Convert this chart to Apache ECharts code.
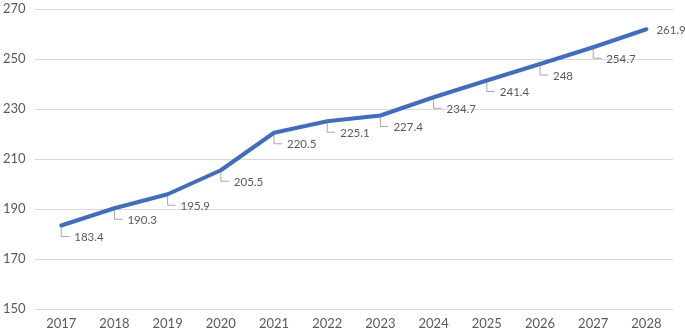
<!DOCTYPE html>
<html>
<head>
<meta charset="utf-8">
<script src="https://cdn.jsdelivr.net/npm/echarts@6/dist/echarts.min.js"></script>
<style>
  html, body { margin: 0; padding: 0; background: #fff; }
  #chart { width: 685px; height: 334px; }
</style>
</head>
<body>
<div id="chart"></div>
<script>
// Yearly values, 2017–2028
const years = ['2017', '2018', '2019', '2020', '2021', '2022', '2023', '2024', '2025', '2026', '2027', '2028'];
const values = [183.4, 190.3, 195.9, 205.5, 220.5, 225.1, 227.4, 234.7, 241.4, 248, 254.7, 261.9];
const labelTexts = ['183.4', '190.3', '195.9', '205.5', '220.5', '225.1', '227.4', '234.7', '241.4', '248', '254.7', '261.9'];
const yTicks = { min: 150, max: 270, interval: 20 };

const textColor = '#595959';
const fontFamily = 'Lato, "Open Sans", sans-serif';

const chart = echarts.init(document.getElementById('chart'));

// Callout: elbow leader from the point down and right, then the value text.
function renderCallout(params, api) {
  const i = params.dataIndex;
  const p = api.coord([api.value(0), api.value(1)]);
  const last = i === values.length - 1;
  const font = '11.5px ' + fontFamily;
  const children = [];
  if (last) {
    children.push({
      type: 'text',
      style: {
        x: p[0] + 10, y: p[1] + 1,
        text: labelTexts[i],
        fill: textColor, font: font,
        textAlign: 'left', textVerticalAlign: 'middle'
      }
    });
  } else {
    const dy = 11;
    children.push({
      type: 'polyline',
      shape: { points: [[p[0], p[1] + 2], [p[0], p[1] + dy], [p[0] + 8, p[1] + dy]] },
      style: { stroke: '#a6a6a6', lineWidth: 1, fill: null }
    });
    children.push({
      type: 'text',
      style: {
        x: p[0] + 13, y: p[1] + dy + 1,
        text: labelTexts[i],
        fill: textColor, font: font,
        textAlign: 'left', textVerticalAlign: 'middle'
      }
    });
  }
  return { type: 'group', children: children };
}

chart.setOption({
  animation: false,
  grid: { left: 33, right: 12, top: 9, bottom: 25, containLabel: false },
  xAxis: {
    type: 'category',
    data: years,
    boundaryGap: true,
    axisLine: { show: false },
    axisTick: { show: false },
    axisLabel: { color: textColor, fontSize: 13, fontFamily: fontFamily, margin: 8 }
  },
  yAxis: {
    type: 'value',
    min: yTicks.min, max: yTicks.max, interval: yTicks.interval,
    axisLine: { show: false },
    axisTick: { show: false },
    axisLabel: { color: textColor, fontSize: 13, fontFamily: fontFamily, margin: 9 },
    splitLine: { lineStyle: { color: '#d9d9d9', width: 1 } }
  },
  series: [
    {
      type: 'line',
      data: values,
      symbol: 'none',
      lineStyle: { color: '#436db8', width: 4, cap: 'round', join: 'round' },
      z: 3
    },
    {
      type: 'custom',
      data: values.map((v, i) => [i, v]),
      renderItem: renderCallout,
      z: 2
    }
  ]
});
</script>
</body>
</html>
